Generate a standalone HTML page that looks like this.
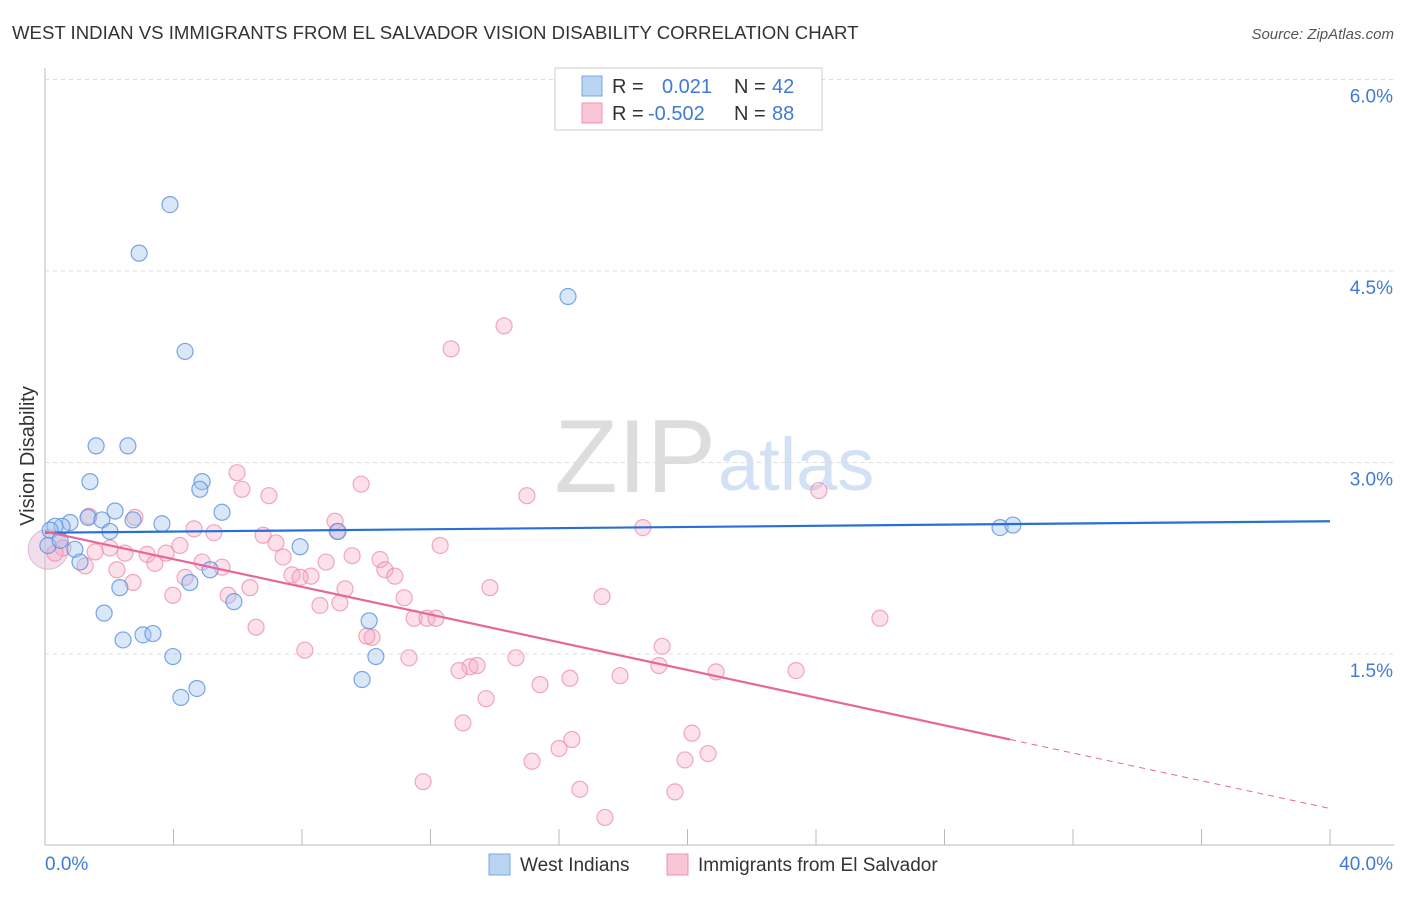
<!DOCTYPE html>
<html><head><meta charset="utf-8"><style>
body{margin:0;background:#fff;font-family:"Liberation Sans",sans-serif;}
svg text{font-family:"Liberation Sans",sans-serif;}
</style></head><body>
<svg id="chart" width="1406" height="892" xmlns="http://www.w3.org/2000/svg">
<text x="12" y="39" font-size="18.6" fill="#333">WEST INDIAN VS IMMIGRANTS FROM EL SALVADOR VISION DISABILITY CORRELATION CHART</text>
<text x="1394" y="39" font-size="15" fill="#555" font-style="italic" text-anchor="end">Source: ZipAtlas.com</text>
<text x="34" y="456" font-size="20" fill="#333" text-anchor="middle" transform="rotate(-90 34 456)">Vision Disability</text>
<text x="716" y="492" font-size="104" fill="#ddd" text-anchor="end" font-family="Liberation Serif">ZIP</text>
<text x="718" y="490" font-size="74" fill="#d2e1f3">atlas</text>
<g id="grid"></g><g id="pts"></g><g id="lines"></g>
<g>
<rect x="555" y="68" width="267" height="62" fill="#fff" stroke="#ccc"/>
<rect x="582" y="76" width="20" height="20" fill="#b9d3f3" stroke="#7aa7e0"/>
<rect x="582" y="103" width="20" height="20" fill="#f9c6d5" stroke="#ec94b0"/>
<text x="612" y="93" font-size="20" fill="#333">R = </text><text x="662" y="93" font-size="20" fill="#3f7bd6">0.021</text>
<text x="734" y="93" font-size="20" fill="#333">N = </text><text x="772" y="93" font-size="20" fill="#3f7bd6">42</text>
<text x="612" y="120" font-size="20" fill="#333">R = </text><text x="648" y="120" font-size="20" fill="#3f7bd6">-0.502</text>
<text x="734" y="120" font-size="20" fill="#333">N = </text><text x="772" y="120" font-size="20" fill="#3f7bd6">88</text>
</g>
<g>
<rect x="489" y="854" width="21" height="21" fill="#b9d3f3" stroke="#7aa7e0"/>
<text x="520" y="871" font-size="19" fill="#333">West Indians</text>
<rect x="667" y="854" width="21" height="21" fill="#f9c6d5" stroke="#ec94b0"/>
<text x="698" y="871" font-size="19" fill="#333">Immigrants from El Salvador</text>
</g>
</svg>
<script>
const yTicks=[1.5,3.0,4.5,6.0];
const xTickVals=[0,4,8,12,16,20,24,28,32,36,40];
const blueX=[3.89,2.93,16.28,4.36,1.59,2.58,1.40,4.89,4.82,2.18,5.51,1.34,1.77,2.74,3.64,0.78,0.53,0.31,0.16,2.02,9.12,7.94,0.93,1.09,2.33,4.51,5.14,5.88,1.84,2.43,3.05,3.36,3.98,10.09,10.30,9.87,4.73,4.23,29.73,30.13,0.09,0.47];
const blueY=[5.02,4.64,4.30,3.87,3.13,3.13,2.85,2.85,2.79,2.62,2.61,2.57,2.55,2.55,2.52,2.53,2.50,2.50,2.47,2.46,2.46,2.34,2.32,2.22,2.02,2.06,2.16,1.91,1.82,1.61,1.65,1.66,1.48,1.76,1.48,1.30,1.23,1.16,2.49,2.51,2.35,2.39];
const pinkX=[14.29,12.64,5.98,9.84,6.13,6.97,15.00,24.09,2.80,1.37,9.03,9.09,18.61,6.79,5.26,4.64,7.19,12.30,4.20,2.02,0.56,0.31,1.56,2.49,3.18,3.77,9.56,10.43,7.41,8.75,1.25,3.42,4.89,5.51,10.58,7.69,8.28,10.89,7.94,4.36,2.24,2.74,9.34,13.85,6.38,3.98,5.70,11.18,17.34,8.56,9.18,11.49,11.89,12.17,25.99,6.57,10.18,10.02,19.21,8.09,11.33,14.66,13.23,12.89,13.45,19.11,20.89,23.38,17.90,16.34,15.41,13.73,13.01,20.14,16.40,16.00,20.64,15.16,19.92,11.77,16.65,19.61,17.43];
const pinkY=[4.07,3.89,2.92,2.83,2.79,2.74,2.74,2.78,2.57,2.58,2.54,2.46,2.49,2.43,2.45,2.48,2.37,2.35,2.35,2.33,2.33,2.29,2.30,2.29,2.28,2.29,2.27,2.24,2.26,2.22,2.19,2.21,2.22,2.18,2.16,2.12,2.11,2.11,2.10,2.10,2.16,2.06,2.01,2.02,2.02,1.96,1.96,1.94,1.95,1.88,1.90,1.78,1.78,1.78,1.78,1.71,1.63,1.64,1.56,1.53,1.47,1.47,1.40,1.37,1.41,1.41,1.36,1.37,1.33,1.31,1.26,1.15,0.96,0.88,0.83,0.76,0.72,0.66,0.67,0.50,0.44,0.42,0.22];
const blueTrend=[2.45,2.54];
const pinkTrend=[2.46,0.29];
const pinkSolidEnd=30.04;
const X=v=>45+v*32.125, Y=v=>845.5-v*127.67;
const NS="http://www.w3.org/2000/svg";
function mk(tag,attrs,parent){const e=document.createElementNS(NS,tag);for(const k in attrs)e.setAttribute(k,attrs[k]);parent.appendChild(e);return e;}
const grid=document.getElementById('grid');
mk('line',{x1:45,y1:68,x2:45,y2:845,stroke:'#bbb'},grid);
mk('line',{x1:45,y1:845,x2:1394,y2:845,stroke:'#bbb'},grid);
yTicks.forEach(t=>{
 const l=mk('line',{x1:45,y1:Y(t),x2:1394,y2:Y(t),stroke:'#ddd','stroke-dasharray':'4,4'},grid);
 
 
 const tx=mk('text',{x:1393,y:Y(t)+23,'font-size':19,fill:'#3f7bd6','text-anchor':'end'},grid);
 tx.textContent=t.toFixed(1)+'%';
 
 
});
xTickVals.forEach(t=>{
 const l=mk('line',{x1:X(t),y1:829,x2:X(t),y2:845,stroke:'#bbb'},grid);
 
 
});
const xl=mk('text',{x:45,y:870,'font-size':19,fill:'#3f7bd6'},grid);xl.textContent='0.0%';


const xr=mk('text',{x:1393,y:870,'font-size':19,fill:'#3f7bd6','text-anchor':'end'},grid);xr.textContent='40.0%';


const pts=document.getElementById('pts');
const big=mk('circle',{cx:X(0.1),cy:Y(2.32),r:20,fill:'rgba(230,180,210,0.45)',stroke:'rgba(200,150,200,0.6)'},pts);


pinkX.forEach((v,i)=>{
 const c=mk('circle',{cx:X(v),cy:Y(pinkY[i]),r:8,fill:'rgba(246,170,195,0.35)',stroke:'rgba(236,140,172,0.75)','stroke-width':1.2},pts);
 
 
});
blueX.forEach((v,i)=>{
 const c=mk('circle',{cx:X(v),cy:Y(blueY[i]),r:8,fill:'rgba(160,195,240,0.4)',stroke:'rgba(90,145,220,0.8)','stroke-width':1.2},pts);
 
 
});
const ln=document.getElementById('lines');
const b=mk('line',{x1:X(0),y1:Y(blueTrend[0]),x2:X(40),y2:Y(blueTrend[1]),stroke:'#2a6fd4','stroke-width':2.2},ln);


const py=x=>pinkTrend[0]+(pinkTrend[1]-pinkTrend[0])*x/40;
const p=mk('line',{x1:X(0),y1:Y(pinkTrend[0]),x2:X(pinkSolidEnd),y2:Y(py(pinkSolidEnd)),stroke:'#e8679a','stroke-width':2.2},ln);


const pd=mk('line',{x1:X(pinkSolidEnd),y1:Y(py(pinkSolidEnd)),x2:X(40),y2:Y(pinkTrend[1]),stroke:'#e8679a','stroke-width':1,'stroke-dasharray':'6,5'},ln);


</script>
</body></html>
